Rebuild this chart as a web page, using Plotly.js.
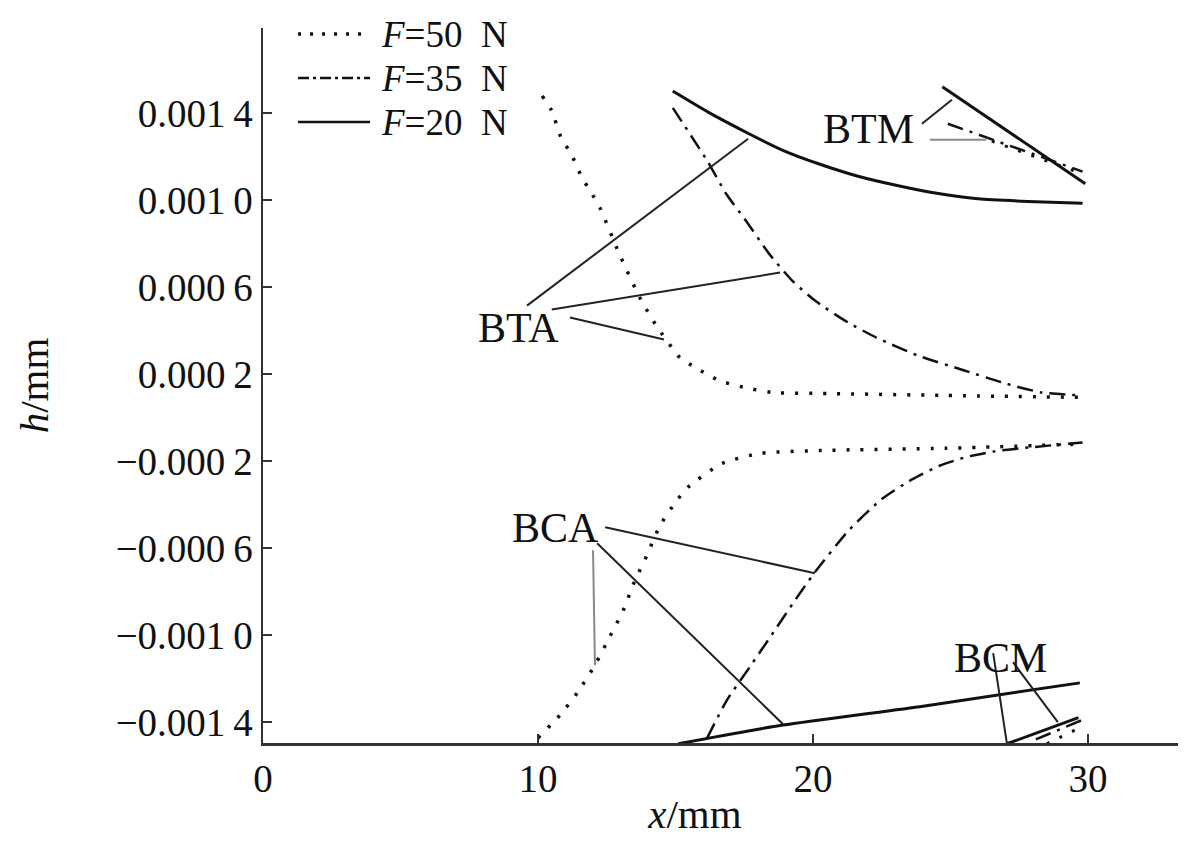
<!DOCTYPE html>
<html>
<head>
<meta charset="utf-8">
<script src="https://cdn.plot.ly/plotly-3.0.1.min.js"></script>
<style>html,body{margin:0;padding:0;background:#fff;}#chart{width:1200px;height:857px;}</style>
</head>
<body>
<div id="chart"></div>
<script>
// ---- data (x in mm, h in mm) ----
const seriesNames = ["<i>F</i>=50\u2002N", "<i>F</i>=35\u2002N", "<i>F</i>=20\u2002N"];

// BTA (upper) curves
const xTop50 = [10.15, 10.5, 10.84, 11.2, 11.6, 11.96, 12.25, 12.95, 13.7, 14.3, 15.16, 15.6, 16.58, 17.5, 18.5, 20.6, 24.8, 29.8];
const hTop50 = [0.001478, 0.001409, 0.001285, 0.001212, 0.001102, 0.001028, 0.000964, 0.000753, 0.000551, 0.000422, 0.000275, 0.000239, 0.00017, 0.000138, 0.000115, 0.00011, 0.000101, 0.000092];
const xTop35 = [14.9, 16.15, 16.84, 17.56, 18.4, 19.24, 20.07, 21.16, 22.3, 23.8, 25.5, 27.0, 28.3, 29.8];
const hTop35 = [0.001423, 0.00118, 0.001028, 0.000904, 0.000753, 0.000629, 0.000537, 0.000445, 0.000367, 0.000285, 0.000216, 0.000156, 0.000115, 0.000101];
const xTop20 = [14.9, 16.2, 17.67, 18.9, 20.2, 21.6, 23.1, 24.5, 26.0, 27.8, 29.8];
const hTop20 = [0.0015, 0.001402, 0.001304, 0.001228, 0.001166, 0.00111, 0.001065, 0.00103, 0.001005, 0.000993, 0.000985];

// BCA (lower) curves
const xBot50 = [10.0, 10.8, 11.45, 12.07, 12.6, 13.1, 13.5, 13.96, 14.44, 15.05, 15.45, 16.7, 18.1, 20.6, 24.8, 29.8];
const hBot50 = [-0.001473, -0.001368, -0.001262, -0.001138, -0.00101, -0.000886, -0.000757, -0.000633, -0.000496, -0.000381, -0.000321, -0.000211, -0.000165, -0.000151, -0.000142, -0.000122];
const xBot35 = [16.15, 16.87, 17.7, 18.44, 19.27, 20.04, 21.3, 22.5, 23.6, 24.6, 25.6, 26.6, 27.7, 29.8];
const hBot35 = [-0.001473, -0.001299, -0.001147, -0.00101, -0.000854, -0.000716, -0.000519, -0.000375, -0.000285, -0.000222, -0.000181, -0.000156, -0.00014, -0.000115];
const xBot20 = [15.1, 18.9, 24.0, 29.7];
const hBot20 = [-0.0015, -0.001414, -0.001327, -0.00122];

// BTM segments
const xBTM50 = [26.5, 29.8];
const hBTM50 = [0.00127, 0.00112];
const xBTM35 = [24.9, 29.8];
const hBTM35 = [0.00135, 0.00113];
const xBTM20 = [24.7, 29.9];
const hBTM20 = [0.00152, 0.001074];

// BCM segments
const xBCM50 = [28.5, 29.8];
const hBCM50 = [-0.0015, -0.00142];
const xBCM35 = [28.1, 29.8];
const hBCM35 = [-0.00148, -0.00139];
const xBCM20 = [27.05, 29.65];
const hBCM20 = [-0.0015, -0.00138];

// region labels and their leader lines
const labelText = ["BTA", "BCA", "BTM", "BCM"];
const labelX = [9.3, 10.65, 22.0, 26.8];
const labelH = [0.000409, -0.000509, 0.001327, -0.001106];
const leaderX = [[9.6, 17.64], [10.5, 18.8], [11.16, 14.58], [12.44, 20.07], [12.15, 18.9], [12.0, 12.07], [23.96, 25.05], [24.25, 26.3], [26.55, 27.05], [27.27, 28.9]];
const leaderH = [[0.000514, 0.001281], [0.000496, 0.000666], [0.000459, 0.000358], [-0.000505, -0.000716], [-0.000578, -0.001409], [-0.00061, -0.001138], [0.00135, 0.00146], [0.001276, 0.001276], [-0.001083, -0.0015], [-0.001125, -0.0014]];
const leaderGrey = [false, false, false, false, false, true, false, true, false, false];

// axis ticks
const xTickVals = [0, 10, 20, 30];
const xTickText = ["0", "10", "20", "30"];
const yTickVals = [-0.0014, -0.0010, -0.0006, -0.0002, 0.0002, 0.0006, 0.0010, 0.0014];
const yTickText = ["\u22120.001\u20094", "\u22120.001\u20090", "\u22120.000\u20096", "\u22120.000\u20092", "0.000\u20092", "0.000\u20096", "0.001\u20090", "0.001\u20094"];

// ---- styles ----
const DOT = "3px,11px";
const DASHDOT = "16px,7px,3px,7px";
const DASHES = [DOT, DASHDOT, "solid"];
const WIDTHS = [3.5, 2.5, 3];
const INK = "#111";
const FONT = "Liberation Serif, Times New Roman, serif";

function curve(x, y, k, w) {
  return {x: x, y: y, type: "scatter", mode: "lines", name: seriesNames[k], showlegend: false,
          line: {color: INK, width: w || WIDTHS[k], dash: DASHES[k], shape: "spline", smoothing: 0.6}, hoverinfo: "skip"};
}

const traces = [
  curve(xTop50, hTop50, 0), curve(xTop35, hTop35, 1), curve(xTop20, hTop20, 2),
  curve(xBot50, hBot50, 0), curve(xBot35, hBot35, 1), curve(xBot20, hBot20, 2),
  curve(xBTM50, hBTM50, 0, 3), curve(xBTM35, hBTM35, 1), curve(xBTM20, hBTM20, 2),
  curve(xBCM50, hBCM50, 0, 3), curve(xBCM35, hBCM35, 1), curve(xBCM20, hBCM20, 2)
];

for (let i = 0; i < leaderX.length; i++) {
  traces.push({x: leaderX[i], y: leaderH[i], type: "scatter", mode: "lines", showlegend: false, hoverinfo: "skip",
    line: {color: leaderGrey[i] ? "#888" : "#222", width: 2}});
}

const annotations = labelText.map((t, i) => ({
  x: labelX[i], y: labelH[i], xref: "x", yref: "y", text: t, showarrow: false,
  font: {family: FONT, size: 42, color: INK}, xanchor: "center", yanchor: "middle"
}));

// legend (drawn in the top-left corner of the plot area)
const legRowY = [0.9915, 0.930, 0.8685];
const shapes = [];
for (let k = 0; k < 3; k++) {
  shapes.push({type: "line", xref: "paper", yref: "paper", x0: 0.0383, x1: 0.117, y0: legRowY[k], y1: legRowY[k],
    line: {color: INK, width: k === 0 ? 3.5 : 2.5, dash: k === 0 ? "3px,9px" : (k === 1 ? "11px,4px,3px,4px" : "solid")}});
  annotations.push({x: 0.128, y: legRowY[k], xref: "paper", yref: "paper", text: seriesNames[k], showarrow: false,
    xanchor: "left", yanchor: "middle", height: 40, borderpad: 0, font: {family: FONT, size: 37, color: INK}});
}

const layout = {
  width: 1200, height: 857,
  margin: {l: 263, r: 22, t: 28, b: 114},
  paper_bgcolor: "#fff", plot_bgcolor: "#fff",
  font: {family: FONT, size: 38, color: INK},
  showlegend: false,
  xaxis: {
    range: [0, 33.27], showline: true, linecolor: "#333", linewidth: 2.5,
    ticks: "inside", ticklen: 9, tickwidth: 2, tickcolor: "#333",
    tickvals: xTickVals, ticktext: xTickText, showgrid: false, zeroline: false,
    tickfont: {family: FONT, size: 39, color: INK},
    title: {text: "<i>x</i>/mm&nbsp;&nbsp;&nbsp;&nbsp;&nbsp;", font: {family: FONT, size: 41, color: INK}, standoff: 0}
  },
  yaxis: {
    range: [-0.0014964, 0.00179], showline: true, linecolor: "#333", linewidth: 2.5,
    ticks: "inside", ticklen: 9, tickwidth: 2, tickcolor: "#333",
    tickvals: yTickVals, ticktext: yTickText, showgrid: false, zeroline: false,
    tickfont: {family: FONT, size: 39, color: INK},
    title: {text: "<i>h</i>/mm", font: {family: FONT, size: 41, color: INK}, standoff: 55}
  },
  shapes: shapes,
  annotations: annotations
};

Plotly.newPlot("chart", traces, layout, {staticPlot: true, displayModeBar: false});
</script>
</body>
</html>
